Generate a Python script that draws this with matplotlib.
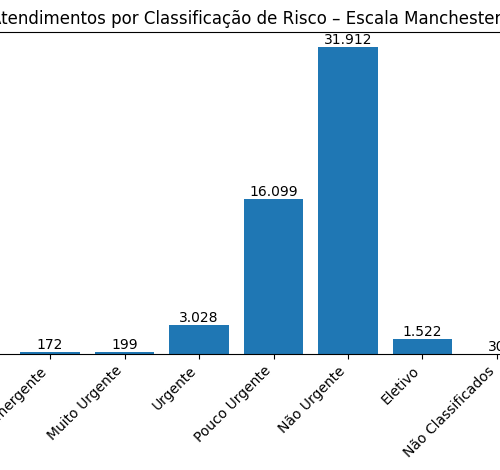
import matplotlib
matplotlib.use('Agg')
import matplotlib.pyplot as plt

categorias = ['Emergente', 'Muito Urgente', 'Urgente', 'Pouco Urgente',
              'Não Urgente', 'Eletivo', 'Não Classificados']
atendimentos = [172, 199, 3028, 16099, 31912, 1522, 30]

fig = plt.figure(figsize=(5, 4.7), dpi=100)
ax = fig.add_axes([-5 / 500, 1 - 354 / 470, 557 / 500, 322 / 470])
pos = range(len(categorias))
bars = ax.bar(pos, atendimentos, width=0.8, color='#1f77b4')
for b, v in zip(bars, atendimentos):
    ax.text(b.get_x() + b.get_width() / 2, v, f'{v:,}'.replace(',', '.'),
            ha='center', va='bottom', fontsize=10)
ax.set_xlim(-0.74, 6.74)
ax.set_ylim(0, max(atendimentos) * 1.05)
ax.set_xticks(list(pos))
ax.set_xticklabels(categorias, rotation=45, ha='right', fontsize=10)
ax.set_yticks([])
ax.spines['left'].set_visible(False)
ax.spines['right'].set_visible(False)
ax.set_title('Atendimentos por Classificação de Risco – Escala Manchester',
             fontsize=12, x=0.45)
fig.savefig('out.png', dpi=100)
